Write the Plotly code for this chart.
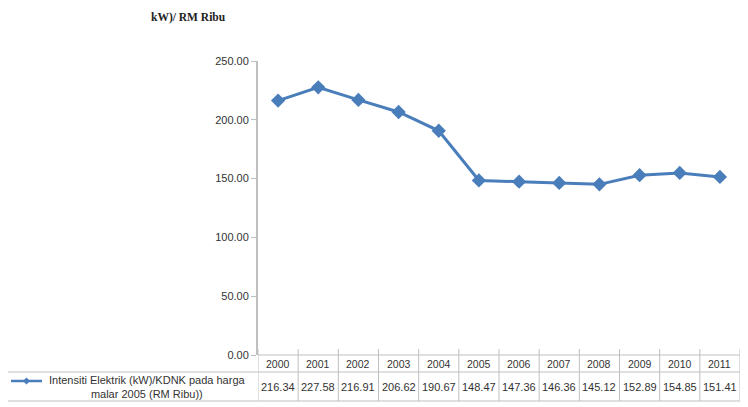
import plotly.graph_objects as go

years = ["2000", "2001", "2002", "2003", "2004", "2005", "2006", "2007", "2008", "2009", "2010", "2011"]
values = [216.34, 227.58, 216.91, 206.62, 190.67, 148.47, 147.36, 146.36, 145.12, 152.89, 154.85, 151.41]
value_labels = ["216.34", "227.58", "216.91", "206.62", "190.67", "148.47", "147.36", "146.36", "145.12", "152.89", "154.85", "151.41"]
y_ticks = [0, 50, 100, 150, 200, 250]
y_tick_labels = ["0.00", "50.00", "100.00", "150.00", "200.00", "250.00"]
series_name = "Intensiti Elektrik (kW)/KDNK pada harga<br>malar 2005 (RM Ribu))"
unit_label = "kW)/ RM Ribu"

# page body has an 8px margin; work in screen pixels and convert
OFF = 8
SW, SH = 748, 407
W, H = SW - OFF, SH - OFF
PL, PR, PT, PB = 258, 740, 61, 355   # plot area in screen pixels
L = PL - OFF
R = (OFF + W) - PR
T = PT - OFF
B = (OFF + H) - PB
pw = PR - PL
ph = PB - PT

def px_to_paper_x(px):
    return (px - PL) / pw

def py_to_paper_y(py):
    return (PB - py) / ph

BLUE = "#4A7EBB"
GRID = "#BFBFBF"
TXT = "#333333"
FONT = "Liberation Sans Narrow, Liberation Sans, Arial"

xs = list(range(len(years)))

fig = go.Figure()
fig.add_trace(go.Scatter(
    x=xs, y=values, mode="lines+markers",
    line=dict(color=BLUE, width=3),
    marker=dict(symbol="diamond", size=11, color=BLUE),
    showlegend=False, cliponaxis=False,
))

y_head_bot = py_to_paper_y(372)
y_tab_bot = py_to_paper_y(401)
x_leg_left = px_to_paper_x(5)

shapes = []
line = dict(color=GRID, width=1)
shapes.append(dict(type="line", xref="paper", yref="paper", x0=0, x1=1, y0=0, y1=0, line=line))
shapes.append(dict(type="line", xref="paper", yref="paper", x0=x_leg_left, x1=1, y0=y_head_bot, y1=y_head_bot, line=line))
shapes.append(dict(type="line", xref="paper", yref="paper", x0=x_leg_left, x1=1, y0=y_tab_bot, y1=y_tab_bot, line=line))
shapes.append(dict(type="line", xref="paper", yref="paper", x0=x_leg_left, x1=x_leg_left, y0=y_head_bot, y1=y_tab_bot, line=line))
for i in range(len(years) + 1):
    xb = i - 0.5
    shapes.append(dict(type="line", xref="x", yref="paper", x0=xb, x1=xb,
                       y0=y_tab_bot, y1=py_to_paper_y(349), line=line))

annotations = []
for i, (yr, vl) in enumerate(zip(years, value_labels)):
    annotations.append(dict(x=i, y=py_to_paper_y(363.5), xref="x", yref="paper", text=yr,
                            xanchor="center", yanchor="middle",
                            showarrow=False, font=dict(family=FONT, size=10.5, color=TXT)))
    annotations.append(dict(x=i, y=py_to_paper_y(387), xref="x", yref="paper", text=vl,
                            xanchor="center", yanchor="middle",
                            showarrow=False, font=dict(family=FONT, size=11, color=TXT)))

annotations.append(dict(x=px_to_paper_x(147), y=py_to_paper_y(387), xref="paper", yref="paper",
                        text=series_name, showarrow=False, align="center",
                        xanchor="center", yanchor="middle",
                        font=dict(family=FONT, size=11, color=TXT)))
annotations.append(dict(x=px_to_paper_x(188), y=py_to_paper_y(17), xref="paper", yref="paper",
                        text="<b>" + unit_label + "</b>", showarrow=False,
                        xanchor="center", yanchor="middle",
                        font=dict(family="Liberation Serif, DejaVu Serif", size=11.5, color="#222222")))

shapes.append(dict(type="line", xref="paper", yref="paper",
                   x0=px_to_paper_x(11), x1=px_to_paper_x(42),
                   y0=py_to_paper_y(381), y1=py_to_paper_y(381),
                   line=dict(color=BLUE, width=2.5)))
shapes.append(dict(type="path", xref="paper", yref="paper",
                   path="M {} {} L {} {} L {} {} L {} {} Z".format(
                       px_to_paper_x(26.5), py_to_paper_y(377.5),
                       px_to_paper_x(30), py_to_paper_y(381),
                       px_to_paper_x(26.5), py_to_paper_y(384.5),
                       px_to_paper_x(23), py_to_paper_y(381)),
                   fillcolor=BLUE, line=dict(color=BLUE, width=0)))

fig.update_layout(
    width=W, height=H,
    margin=dict(l=L, r=R, t=T, b=B, pad=0),
    paper_bgcolor="white", plot_bgcolor="white",
    xaxis=dict(range=[-0.5, len(years) - 0.5], showticklabels=False, showgrid=False,
               zeroline=False, showline=False, ticks=""),
    yaxis=dict(range=[0, 250], tickvals=y_ticks, ticktext=y_tick_labels,
               showgrid=False, zeroline=False, showline=True, linecolor=GRID, linewidth=2,
               ticks="outside", ticklen=5, tickcolor=GRID,
               tickfont=dict(family=FONT, size=11, color=TXT)),
    shapes=shapes, annotations=annotations,
)

fig.write_html("out.html")
